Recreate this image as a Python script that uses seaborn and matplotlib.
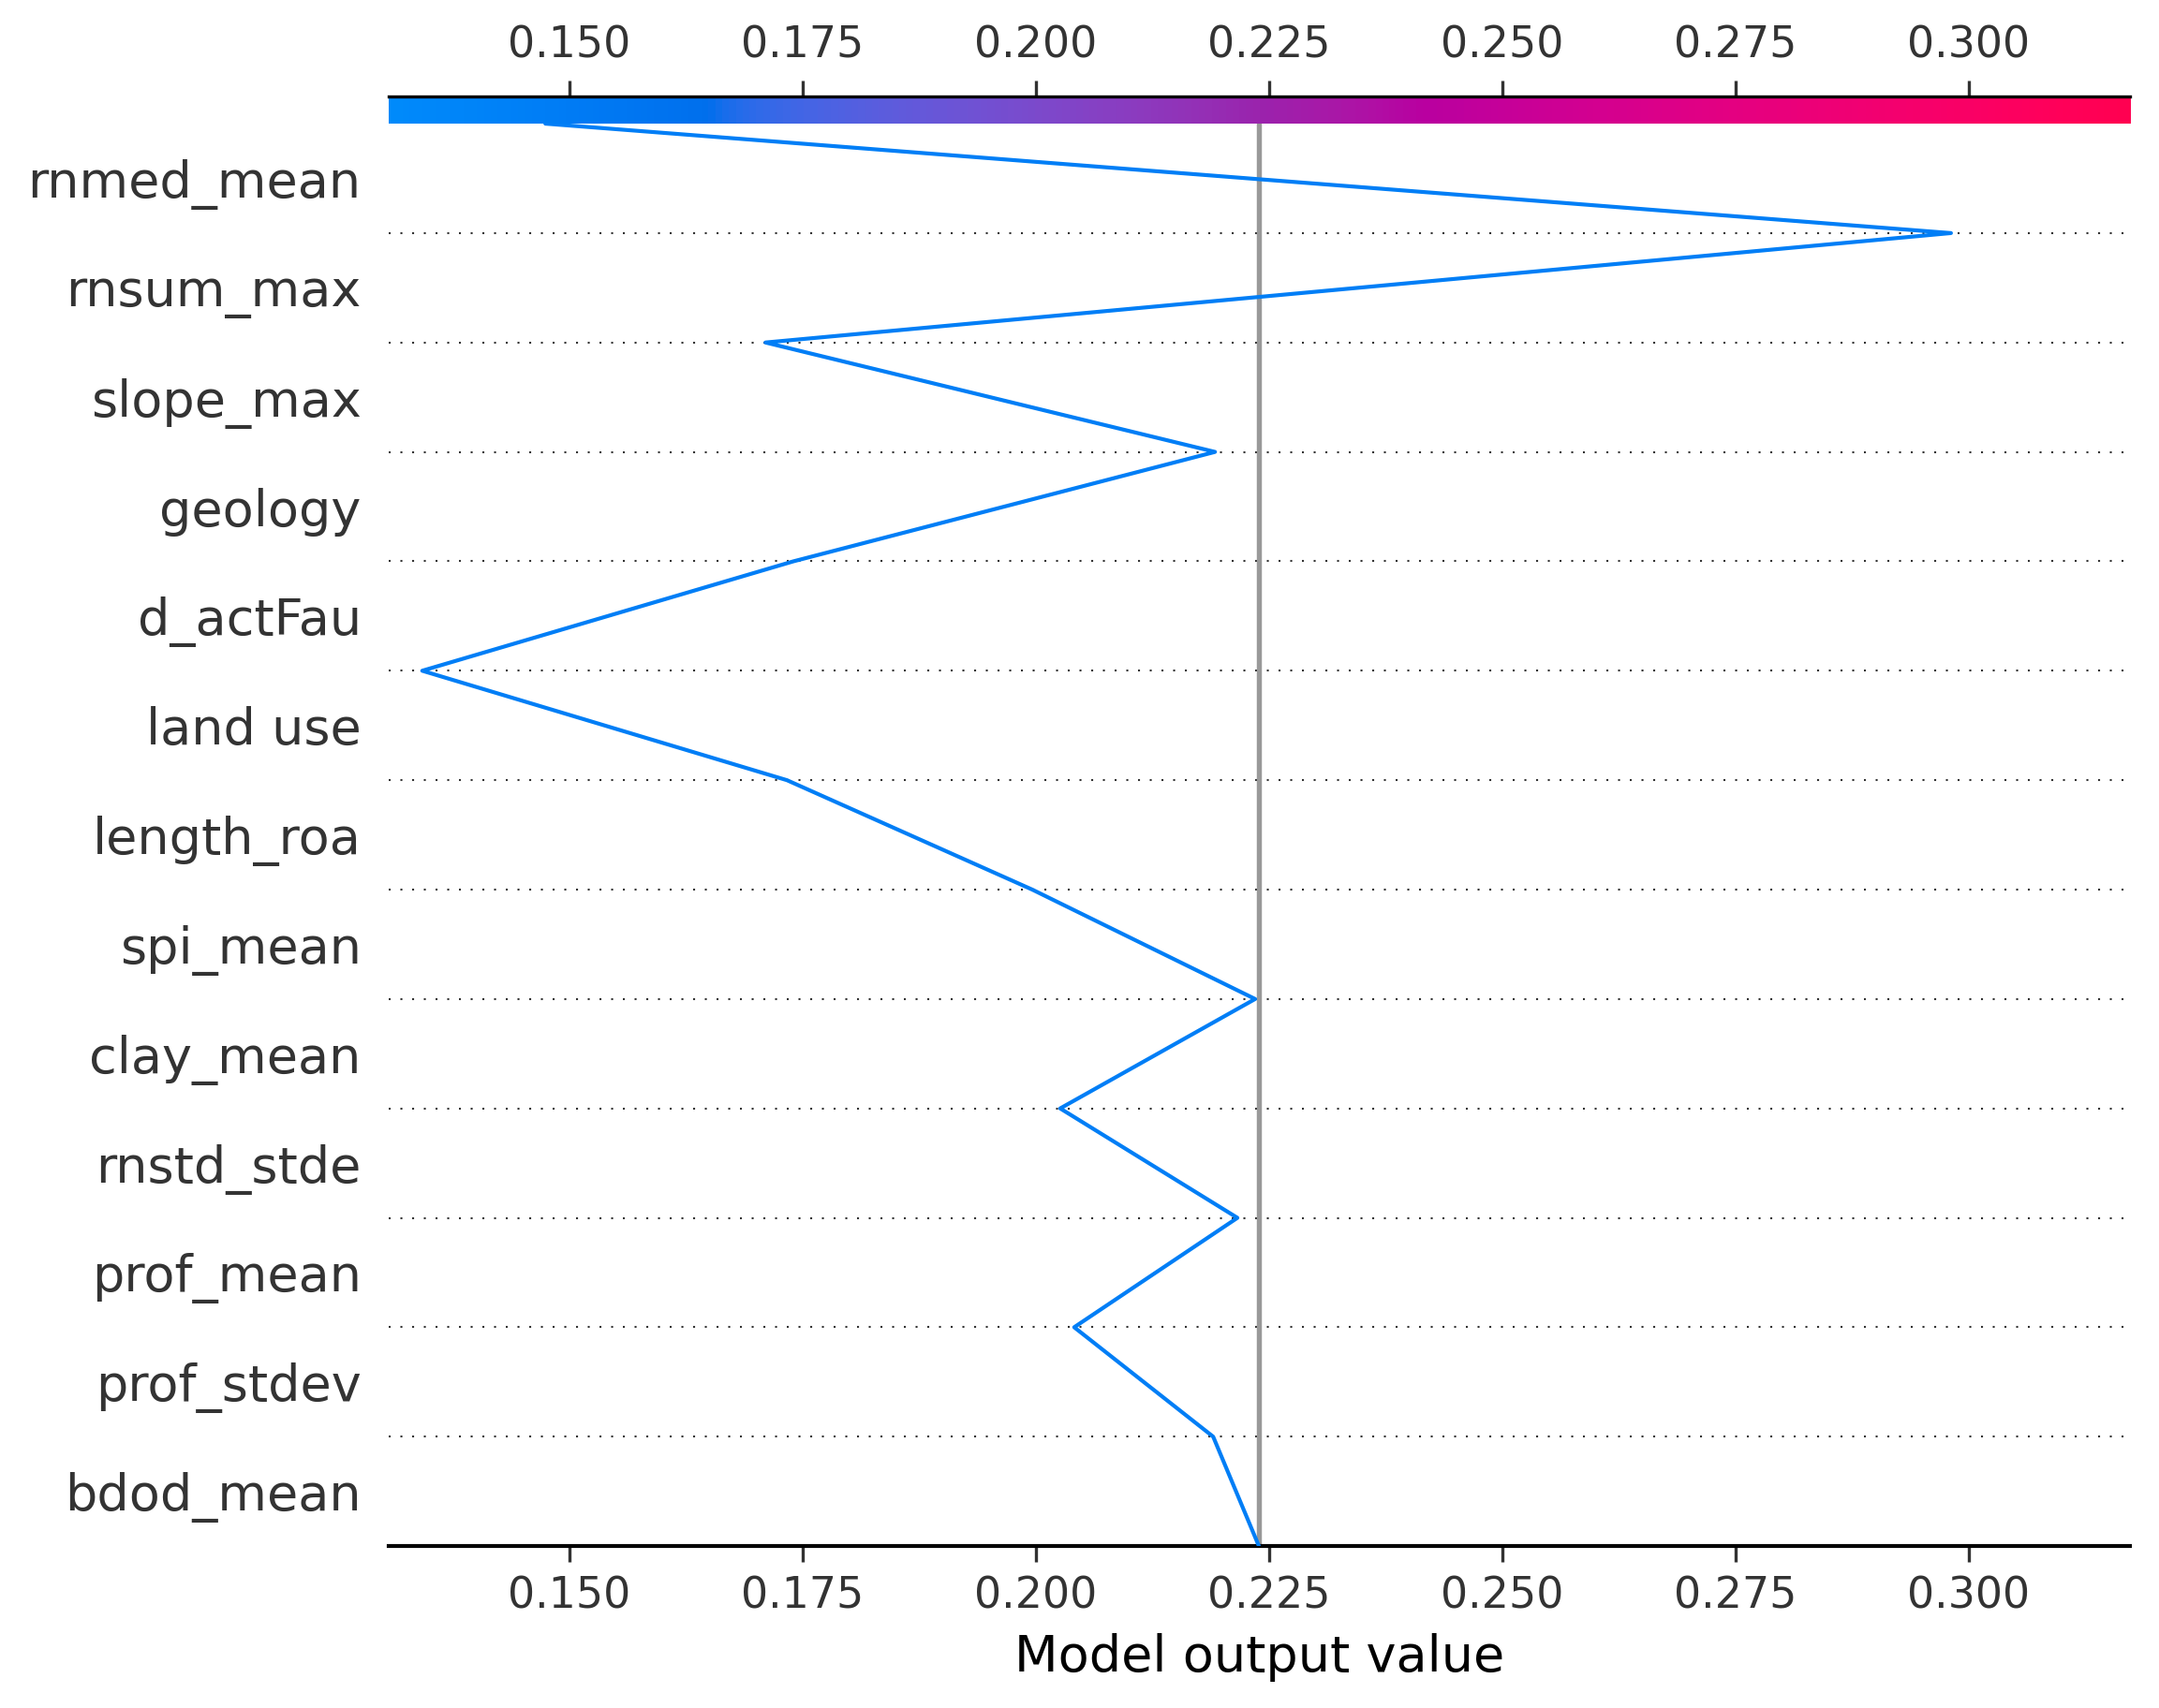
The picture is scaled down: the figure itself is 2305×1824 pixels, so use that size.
import numpy as np
import pandas as pd
import matplotlib
matplotlib.use("Agg")
import matplotlib.pyplot as plt
from matplotlib.colors import LinearSegmentedColormap, Normalize
import seaborn as sns

# features, top to bottom as shown
features = [
    "rnmed_mean",
    "rnsum_max",
    "slope_max",
    "geology",
    "d_actFau",
    "land use",
    "length_roa",
    "spi_mean",
    "clay_mean",
    "rnstd_stde",
    "prof_mean",
    "prof_stdev",
    "bdod_mean",
]

base_value = 0.2239

# cumulative model output at each row boundary, bottom (base) to top (prediction)
output_path = [
    0.2239, 0.2190, 0.2041, 0.2216, 0.2026, 0.2235, 0.1996,
    0.1733, 0.1342, 0.1740, 0.2192, 0.1710, 0.2981, 0.1474,
]

x_ticks = [0.150, 0.175, 0.200, 0.225, 0.250, 0.275, 0.300]
x_limits = (0.1306, 0.3173)


def lch_to_rgb(l, c, h):
    # Lch -> Lab -> XYZ (D65) -> sRGB, clipped
    a = c * np.cos(h)
    b = c * np.sin(h)
    fy = (l + 16.0) / 116.0
    fx = fy + a / 500.0
    fz = fy - b / 200.0

    def finv(t):
        return t ** 3 if t > 6.0 / 29.0 else 3 * (6.0 / 29.0) ** 2 * (t - 4.0 / 29.0)

    xyz = np.array([0.95047 * finv(fx), 1.0 * finv(fy), 1.08883 * finv(fz)])
    m = np.array([
        [3.2406, -1.5372, -0.4986],
        [-0.9689, 1.8758, 0.0415],
        [0.0557, -0.2040, 1.0570],
    ])
    rgb = m @ xyz
    rgb = np.where(rgb > 0.0031308, 1.055 * np.abs(rgb) ** (1 / 2.4) - 0.055, 12.92 * rgb)
    return np.clip(rgb, 0, 1)


def red_blue_cmap():
    blue_lch = [54.0, 70.0, 4.6588]
    l_mid = 40.0
    red_lch = [54.0, 90.0, 0.35470565 + 2 * np.pi]
    n = 100
    l_vals = list(np.linspace(blue_lch[0], l_mid, n // 2)) + list(np.linspace(l_mid, red_lch[0], n // 2))
    c_vals = np.linspace(blue_lch[1], red_lch[1], n)
    h_vals = np.linspace(blue_lch[2], red_lch[2], n)
    cols = [lch_to_rgb(l, c, h) for l, c, h in zip(l_vals, c_vals, h_vals)]
    return LinearSegmentedColormap.from_list("red_blue", cols)


cmap = red_blue_cmap()
norm = Normalize(*x_limits)

sns.set_style("white")
plt.rcParams["font.family"] = ["DejaVu Sans"]

dpi = 300
fig = plt.figure(figsize=(2305 / dpi, 1824 / dpi), dpi=dpi)
left, right, bottom, top = 0.180, 0.9866, 0.0948, 0.9276
ax = fig.add_axes([left, bottom, right - left, top - bottom])

n = len(features)
df = pd.DataFrame({"output": output_path, "row": np.arange(n + 1)})

# dotted row separators
for i in range(1, n):
    ax.axhline(i, color="#333333", lw=0.5, dashes=(1, 5), zorder=0)

# base value
ax.axvline(base_value, color="#999999", lw=1.3, zorder=1)

sns.lineplot(
    data=df, x="output", y="row", sort=False, estimator=None,
    color=cmap(norm(output_path[-1])), lw=1.0, ax=ax, zorder=3,
)

ax.set_xlim(*x_limits)
ax.set_ylim(0, n)
ax.set_yticks(np.arange(n) + 0.5)
ax.set_yticklabels(features[::-1], fontsize=13, color="#333333")
ax.tick_params(axis="y", length=0, pad=7)
ax.set_xticks(x_ticks)
ax.set_xticklabels([f"{t:.3f}" for t in x_ticks], fontsize=11, color="#333333")
ax.tick_params(axis="x", direction="out", length=4, width=0.8, color="#333333", bottom=True)
ax.set_xlabel("Model output value", fontsize=13, color="black")
ax.set_ylabel("")
for side in ["left", "right", "top"]:
    ax.spines[side].set_visible(False)
ax.spines["bottom"].set_color("black")
ax.spines["bottom"].set_linewidth(1.0)

# colour bar across the top, sharing the x scale
cb_h = 29 / 1824
ax_cb = fig.add_axes([left, top, right - left, cb_h])
grad = np.linspace(0, 1, 512)[None, :]
ax_cb.imshow(grad, cmap=cmap, aspect="auto", extent=(x_limits[0], x_limits[1], 0, 1))
ax_cb.set_xlim(*x_limits)
ax_cb.set_yticks([])
ax_cb.set_xticks(x_ticks)
ax_cb.set_xticklabels([f"{t:.3f}" for t in x_ticks], fontsize=11, color="#333333")
ax_cb.xaxis.set_ticks_position("top")
ax_cb.tick_params(axis="x", direction="out", length=4, width=0.8, color="#333333", top=True, bottom=False)
for side in ["left", "right", "bottom"]:
    ax_cb.spines[side].set_visible(False)
ax_cb.spines["top"].set_color("black")
ax_cb.spines["top"].set_linewidth(0.8)

fig.savefig("out.png", dpi=dpi)
